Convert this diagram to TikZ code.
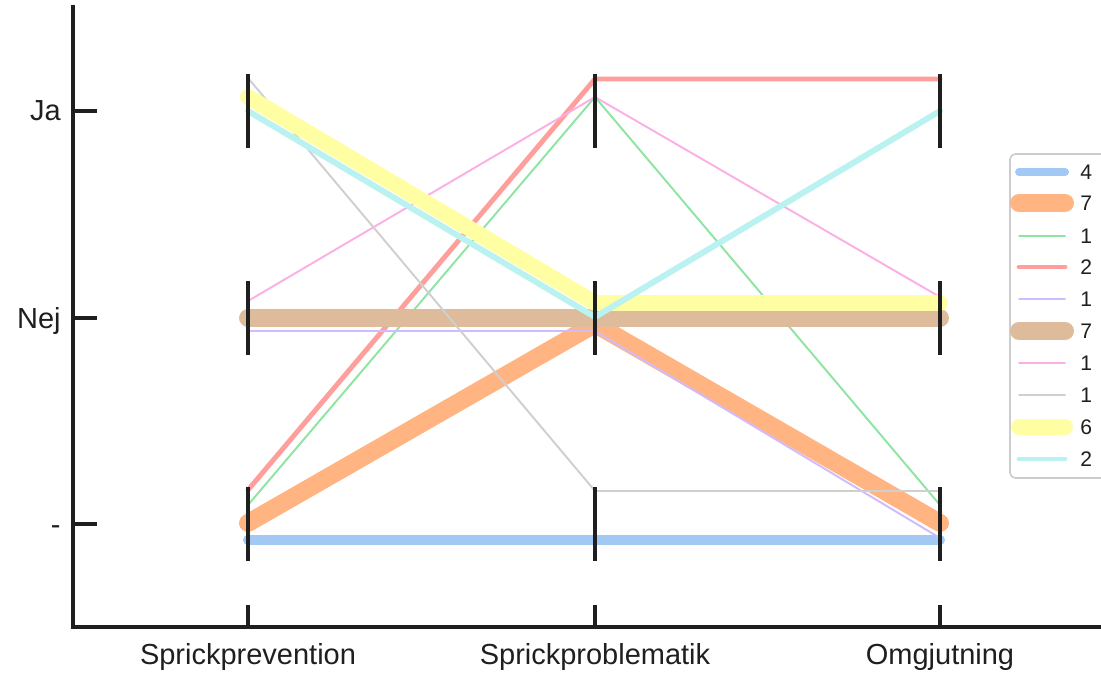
\documentclass[tikz,border=0pt]{standalone}
\usepackage{fontspec}
\setmainfont{Liberation Sans}
\definecolor{pblue}{HTML}{A1C9F4}
\definecolor{porange}{HTML}{FFB482}
\definecolor{pgreen}{HTML}{8DE5A1}
\definecolor{pred}{HTML}{FF9F9B}
\definecolor{ppurple}{HTML}{D0BBFF}
\definecolor{pbrown}{HTML}{DEBB9B}
\definecolor{ppink}{HTML}{FAB0E4}
\definecolor{pgray}{HTML}{CFCFCF}
\definecolor{pyellow}{HTML}{FFFEA3}
\definecolor{pcyan}{HTML}{B9F2F0}
\tikzset{
	axisline/.style={black!88, line width=1.9pt, line cap=butt},
	ticklabel/.style={black!88, inner sep=0pt, font=\fontsize{16.5}{20}\selectfont},
	legendlabel/.style={black!88, inner sep=0pt, anchor=west, font=\fontsize{12}{14}\selectfont}
}
\begin{document}
\begin{tikzpicture}[x=0.02cm, y=-0.02cm, line cap=round, line join=round]
	\useasboundingbox (0,0) rectangle (1101,675);
	
	\draw[pblue, line width=5.7pt] (248,540) -- (595,540) -- (940,540);
	\draw[porange, line width=10.2pt] (248,523) -- (595,324) -- (940,523);
	\draw[pgreen, line width=1.1pt] (248,505) -- (595,97) -- (940,505);
	\draw[pred, line width=2.8pt] (248,490) -- (595,79) -- (940,79);
	\draw[ppurple, line width=1.1pt] (248,331) -- (595,331) -- (940,538);
	\draw[pbrown, line width=10.2pt] (248,318) -- (595,318) -- (940,318);
	\draw[ppink, line width=1.1pt] (248,301) -- (595,97) -- (940,297);
	\draw[pgray, line width=1.1pt] (248,78) -- (595,491) -- (940,491);
	\draw[pyellow, line width=9pt] (248,97) -- (595,303) -- (940,303);
	\draw[pcyan, line width=3.4pt] (248,111) -- (595,317) -- (940,111);
	
	\foreach \x in {248,595,940}{
		\foreach \y in {111,318,524}
			\draw[axisline] (\x,\y-37) -- (\x,\y+37);
		\draw[axisline] (\x,605) -- (\x,627);
	}
	\foreach \y in {111,318,524}
		\draw[axisline] (73,\y) -- (97,\y);
	\draw[axisline, line join=miter] (73,5) -- (73,627) -- (1101,627);
	
	\node[ticklabel, anchor=base east] (Ja) at (61,121) {Ja};
	\node[ticklabel, anchor=base east] (Nej) at (61,328) {Nej};
	\node[ticklabel, anchor=base east] (Inget) at (61,534) {-};
	\node[ticklabel, anchor=base] (Prev) at (248,664) {Sprickprevention};
	\node[ticklabel, anchor=base] (Prob) at (595,664) {Sprickproblematik};
	\node[ticklabel, anchor=base] (Omgj) at (940,664) {Omgjutning};
	
	\draw[black!20, line width=0.9pt, rounded corners=3pt, fill=white] (1010,154) rectangle (1125,478);
	\draw[pblue, line width=4.5pt] (1019,172) -- (1065,172);
	\draw[porange, line width=10.2pt] (1019,203) -- (1065,203);
	\draw[pgreen, line width=1.1pt] (1019,236) -- (1065,236);
	\draw[pred, line width=2.8pt] (1019,267) -- (1065,267);
	\draw[ppurple, line width=1.1pt] (1019,299) -- (1065,299);
	\draw[pbrown, line width=10.2pt] (1019,331) -- (1065,331);
	\draw[ppink, line width=1.1pt] (1019,363) -- (1065,363);
	\draw[pgray, line width=1.1pt] (1019,395) -- (1065,395);
	\draw[pyellow, line width=9pt] (1019,427) -- (1065,427);
	\draw[pcyan, line width=2.8pt] (1019,459) -- (1065,459);
	\node[legendlabel] (L1) at (1080,172) {4};
	\node[legendlabel] (L2) at (1080,203) {7};
	\node[legendlabel] (L3) at (1080,236) {1};
	\node[legendlabel] (L4) at (1080,267) {2};
	\node[legendlabel] (L5) at (1080,299) {1};
	\node[legendlabel] (L6) at (1080,331) {7};
	\node[legendlabel] (L7) at (1080,363) {1};
	\node[legendlabel] (L8) at (1080,395) {1};
	\node[legendlabel] (L9) at (1080,427) {6};
	\node[legendlabel] (L10) at (1080,459) {2};
\end{tikzpicture}
\end{document}
